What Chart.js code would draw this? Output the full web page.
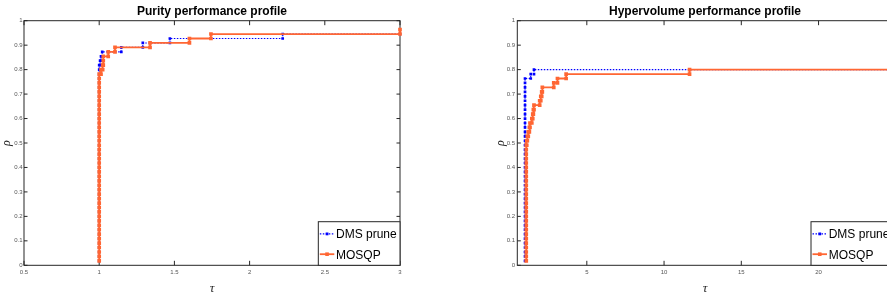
<!DOCTYPE html>
<html><head><meta charset="utf-8">
<script src="https://cdn.jsdelivr.net/npm/chart.js@4.4.0/dist/chart.umd.min.js"></script>
<style>
html,body{margin:0;padding:0;background:#fff;width:887px;height:301px;overflow:hidden;position:relative}
canvas{position:absolute;top:0}
#c1{left:0}
#c2{left:440px}
</style></head><body>
<canvas id="c1" width="440" height="301" style="width:440px;height:301px"></canvas>
<canvas id="c2" width="460" height="301" style="width:460px;height:301px"></canvas>
<script>
// ---------- DATA ----------
const seriesNames = ['DMS prune', 'MOSQP'];

// fraction of problems solved (k / 55), one level per problem
const rhoLevels = [
  0.0182, 0.0364, 0.0545, 0.0727, 0.0909, 0.1091, 0.1273, 0.1455, 0.1636, 0.1818,
  0.2000, 0.2182, 0.2364, 0.2545, 0.2727, 0.2909, 0.3091, 0.3273, 0.3455, 0.3636,
  0.3818, 0.4000, 0.4182, 0.4364, 0.4545, 0.4727, 0.4909, 0.5091, 0.5273, 0.5455,
  0.5636, 0.5818, 0.6000, 0.6182, 0.6364, 0.6545, 0.6727, 0.6909, 0.7091, 0.7273,
  0.7455, 0.7636, 0.7818, 0.8000, 0.8182, 0.8364, 0.8545, 0.8727, 0.8909, 0.9091,
  0.9273, 0.9455, 0.9636
];

// Purity performance profile: sorted performance ratios (tau)
const purityDmsTau = [
  1, 1, 1, 1, 1, 1, 1, 1, 1, 1, 1, 1, 1, 1, 1,
  1, 1, 1, 1, 1, 1, 1, 1, 1, 1, 1, 1, 1, 1, 1,
  1, 1, 1, 1, 1, 1, 1, 1, 1, 1, 1, 1, 1, 1, 1,
  1.006, 1.012, 1.02, 1.147, 1.29, 1.47, 2.22
];
const purityMosqpTau = [
  1, 1, 1, 1, 1, 1, 1, 1, 1, 1, 1, 1, 1, 1, 1,
  1, 1, 1, 1, 1, 1, 1, 1, 1, 1, 1, 1, 1, 1, 1,
  1, 1, 1, 1, 1, 1, 1, 1, 1, 1, 1, 1, 1,
  1.012, 1.023, 1.027, 1.027, 1.06, 1.105, 1.338, 1.6, 1.743, 3.0
];
const purityTauMax = 3;
const purityXTicks = [0.5, 1, 1.5, 2, 2.5, 3];
const purityXLabels = ['0.5', '1', '1.5', '2', '2.5', '3'];

// Hypervolume performance profile
const hvDmsTau = [
  1, 1, 1, 1, 1, 1, 1, 1, 1, 1, 1, 1, 1, 1, 1,
  1, 1, 1, 1, 1, 1, 1, 1, 1, 1, 1, 1, 1, 1, 1,
  1, 1, 1, 1, 1, 1, 1, 1, 1, 1, 1, 1,
  1.37, 1.58
];
const hvMosqpTau = [
  1.08, 1.08, 1.08, 1.08, 1.08, 1.08, 1.08, 1.08, 1.08, 1.08, 1.08, 1.08, 1.08, 1.08, 1.08,
  1.08, 1.08, 1.08, 1.08, 1.08, 1.08, 1.08, 1.08, 1.08, 1.08, 1.08, 1.08,
  1.11, 1.15, 1.21, 1.28, 1.32, 1.44, 1.5, 1.54, 1.58,
  1.95, 2.02, 2.08, 2.12, 2.86, 3.1, 3.66, 11.65
];
const hvTauMax = 24.8;
const hvXTicks = [5, 10, 15, 20];
const hvXLabels = ['5', '10', '15', '20'];

const yTicks = [0, 0.1, 0.2, 0.3, 0.4, 0.5, 0.6, 0.7, 0.8, 0.9, 1];
const yLabels = ['0', '0.1', '0.2', '0.3', '0.4', '0.5', '0.6', '0.7', '0.8', '0.9', '1'];

// ---------- STYLE ----------
const BLUE = '#0000ff';
const ORANGE = '#ff6633';
const AXIS = '#262626';

function stairs(tau, tauMax) {
  const rho = rhoLevels.slice(0, tau.length);
  const pts = [];
  for (let i = 0; i < tau.length; i++) {
    if (i > 0 && tau[i] !== tau[i - 1]) pts.push({x: tau[i], y: rho[i - 1]});
    pts.push({x: tau[i], y: rho[i]});
  }
  if (tauMax > tau[tau.length - 1]) pts.push({x: tauMax, y: rho[tau.length - 1]});
  return pts;
}

const framePlugin = {
  id: 'frame',
  beforeDatasetsDraw(chart, args, opts) {
    const {ctx, chartArea: a, scales: {x, y}} = chart;
    ctx.save();
    ctx.strokeStyle = AXIS;
    ctx.lineWidth = 1;
    ctx.strokeRect(a.left, a.top, a.right - a.left, a.bottom - a.top);
    ctx.beginPath();
    opts.xTicks.forEach(v => {
      const px = x.getPixelForValue(v);
      ctx.moveTo(px, a.bottom); ctx.lineTo(px, a.bottom - 4.5);
      ctx.moveTo(px, a.top); ctx.lineTo(px, a.top + 4.5);
    });
    yTicks.forEach(v => {
      const py = y.getPixelForValue(v);
      ctx.moveTo(a.left, py); ctx.lineTo(a.left + 3.5, py);
      ctx.moveTo(a.right, py); ctx.lineTo(a.right - 3.5, py);
    });
    ctx.stroke();
    ctx.restore();
  },
  afterDraw(chart, args, opts) {
    const {ctx, chartArea: a} = chart;
    ctx.save();
    // title
    ctx.font = 'bold 12px "Liberation Sans"';
    ctx.fillStyle = '#000';
    ctx.textAlign = 'center';
    ctx.textBaseline = 'alphabetic';
    ctx.fillText(opts.title, (a.left + a.right) / 2, 14.8);
    // legend
    ctx.font = '12px "Liberation Sans"';
    const tw = Math.max(...seriesNames.map(n => ctx.measureText(n).width));
    const bw = tw + 21, bh = 43.6;
    const bx = a.right - bw, by = a.bottom - bh;
    ctx.fillStyle = '#fff';
    ctx.fillRect(bx, by, bw, bh);
    ctx.strokeStyle = AXIS;
    ctx.lineWidth = 1;
    ctx.strokeRect(bx, by, bw, bh);
    const styles = [
      {c: BLUE, w: 1.1, dash: [1.5, 1.5], r: 1.4},
      {c: ORANGE, w: 1.8, dash: [], r: 1.8}
    ];
    seriesNames.forEach((n, i) => {
      const cy = by + 12.2 + i * 20.3;
      const s = styles[i];
      ctx.strokeStyle = s.c;
      ctx.lineWidth = s.w;
      ctx.setLineDash(s.dash);
      ctx.beginPath();
      ctx.moveTo(bx + 1.5, cy); ctx.lineTo(bx + 16, cy);
      ctx.stroke();
      ctx.setLineDash([]);
      ctx.fillStyle = s.c;
      ctx.fillRect(bx + 8.75 - s.r, cy - s.r, 2 * s.r, 2 * s.r);
      ctx.fillStyle = '#000';
      ctx.textAlign = 'left';
      ctx.textBaseline = 'alphabetic';
      ctx.fillText(n, bx + 17.7, cy + 4.4);
    });
    ctx.restore();
  }
};

function makeChart(id, c) {
  return new Chart(document.getElementById(id), {
    type: 'line',
    data: {
      datasets: [
        {
          label: seriesNames[0], data: stairs(c.dmsTau, c.tauMax), order: 1,
          borderColor: BLUE, backgroundColor: BLUE, borderWidth: 1.1, borderDash: [1.5, 1.5],
          pointStyle: 'rect', pointRadius: 1.9, pointBorderWidth: 0, pointBackgroundColor: BLUE,
          clip: 4
        },
        {
          label: seriesNames[1], data: stairs(c.mosqpTau, c.tauMax), order: 0,
          borderColor: ORANGE, backgroundColor: ORANGE, borderWidth: 1.8,
          pointStyle: 'rect', pointRadius: 2.6, pointBorderWidth: 0, pointBackgroundColor: ORANGE,
          clip: 4
        }
      ]
    },
    options: {
      responsive: false, animation: false, devicePixelRatio: 1,
      elements: {line: {tension: 0, fill: false}},
      layout: {padding: {left: c.padLeft, right: c.padRight, top: 20.7, bottom: 0}},
      plugins: {
        legend: {display: false}, tooltip: {enabled: false}, title: {display: false},
        frame: {title: c.title, xTicks: c.xTicks}
      },
      scales: {
        x: {
          type: 'linear', position: 'bottom', min: c.xMin, max: c.tauMax,
          grid: {display: false, drawTicks: false}, border: {display: false},
          afterBuildTicks: s => { s.ticks = c.xTicks.map(v => ({value: v})); },
          afterFit: s => { s.height = 35.7; },
          ticks: {
            autoSkip: false, maxRotation: 0, minRotation: 0, padding: 3.5,
            color: '#555', font: {family: 'Liberation Sans', size: 6},
            callback: (v, i) => c.xLabels[i]
          },
          title: {
            display: true, text: 'τ', color: '#262626',
            font: {family: 'Liberation Serif', size: 13, style: 'italic', lineHeight: 1},
            padding: {top: 0, bottom: 6}
          }
        },
        y: {
          type: 'linear', position: 'left', min: 0, max: 1,
          grid: {display: false, drawTicks: false}, border: {display: false},
          afterBuildTicks: s => { s.ticks = yTicks.map(v => ({value: v})); },
          afterFit: s => { s.width = c.yWidth; },
          ticks: {
            autoSkip: false, padding: c.yTickPad,
            color: '#555', font: {family: 'Liberation Sans', size: 6},
            callback: (v, i) => yLabels[i]
          },
          title: {
            display: true, text: 'ρ', color: '#262626',
            font: {family: 'Liberation Serif', size: 12, style: 'italic', lineHeight: 1},
            padding: {top: c.yTitlePad, bottom: 0}
          }
        }
      }
    },
    plugins: [framePlugin]
  });
}

makeChart('c1', {
  title: 'Purity performance profile',
  dmsTau: purityDmsTau, mosqpTau: purityMosqpTau, tauMax: purityTauMax, xMin: 0.5,
  xTicks: purityXTicks, xLabels: purityXLabels,
  padLeft: 0, padRight: 40, yWidth: 24, yTickPad: 1.3, yTitlePad: 0.5
});
makeChart('c2', {
  title: 'Hypervolume performance profile',
  dmsTau: hvDmsTau, mosqpTau: hvMosqpTau, tauMax: hvTauMax, xMin: 0.5,
  xTicks: hvXTicks, xLabels: hvXLabels,
  padLeft: 50, padRight: 7.3, yWidth: 27.3, yTickPad: 2.3, yTitlePad: 4.5
});
</script>
</body></html>
